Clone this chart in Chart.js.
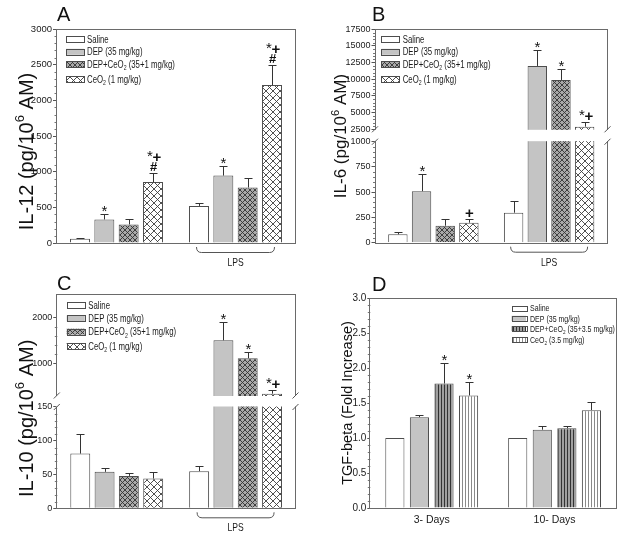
<!DOCTYPE html>
<html><head><meta charset="utf-8">
<script src="https://cdn.jsdelivr.net/npm/chart.js@4.4.1/dist/chart.umd.min.js"></script>
<style>
html,body{margin:0;padding:0;background:#fff;}
#wrap{position:relative;width:624px;height:541px;overflow:hidden;background:#fff;}
canvas{position:absolute;}
</style></head><body><div id="wrap">
<canvas id="cA" width="312" height="270" style="left:0;top:0"></canvas>
<canvas id="cB" width="312" height="270" style="left:312px;top:0"></canvas>
<canvas id="cC" width="312" height="271" style="left:0;top:270px"></canvas>
<canvas id="cD" width="312" height="271" style="left:312px;top:270px"></canvas>
</div>
<script>
// ---------------- DATA ----------------
const groupsABC = ['', 'LPS'];
const groupsD = ['3- Days', '10- Days'];
const seriesABC = ['Saline', 'DEP (35 mg/kg)', 'DEP+CeO₂ (35+1 mg/kg)', 'CeO₂ (1 mg/kg)'];
const seriesD = ['Saline', 'DEP (35 mg/kg)', 'DEP+CeO₂ (35+3.5 mg/kg)', 'CeO₂ (3.5 mg/kg)'];

// Panel A: IL-12
const il12Saline = [60, 520];   const il12SalineErr = [8, 40];
const il12Dep    = [330, 945];  const il12DepErr    = [80, 135];
const il12DepCe  = [260, 778];  const il12DepCeErr  = [80, 127];
const il12Ce     = [855, 2215]; const il12CeErr     = [120, 275];
const il12Marks  = [['', ''], ['*', '*'], ['', ''], ['*+#', '*+#']];
const il12Ticks  = [0, 500, 1000, 1500, 2000, 2500, 3000];

// Panel B: IL-6
const il6Saline = [83, 297];    const il6SalineErr = [26, 116];
const il6Dep    = [510, 12000]; const il6DepErr    = [175, 2400];
const il6DepCe  = [168, 9900];  const il6DepCeErr  = [67, 1600];
const il6Ce     = [198, 2900];  const il6CeErr     = [37, 750];
const il6Marks  = [['', ''], ['*', '*'], ['', '*'], ['+', '*+']];
const il6Ticks  = [0, 250, 500, 750, 1000, 2500, 5000, 7500, 10000, 12500, 15000, 17500];

// Panel C: IL-10
const il10Saline = [81, 55];    const il10SalineErr = [29, 7];
const il10Dep    = [54, 1500];  const il10DepErr    = [6, 400];
const il10DepCe  = [48, 1110];  const il10DepCeErr  = [4, 125];
const il10Ce     = [44, 340];   const il10CeErr     = [10, 90];
const il10Marks  = [['', ''], ['', '*'], ['', '*'], ['', '*+']];
const il10Ticks  = [0, 50, 100, 150, 1000, 2000];

// Panel D: TGF-beta
const tgfSaline = [1.0, 1.0];   const tgfSalineErr = [0, 0];
const tgfDep    = [1.30, 1.12]; const tgfDepErr    = [0.03, 0.05];
const tgfDepCe  = [1.78, 1.14]; const tgfDepCeErr  = [0.30, 0.03];
const tgfCe     = [1.61, 1.40]; const tgfCeErr     = [0.19, 0.12];
const tgfMarks  = [['', ''], ['', ''], ['*', ''], ['*', '']];
const tgfTicks  = [0, 0.5, 1.0, 1.5, 2.0, 2.5, 3.0];

// ---------------- FONTS ----------------
const SANS = '"Liberation Sans", Arial, sans-serif';
const mc = document.createElement('canvas').getContext('2d');
function fontAvail(name) {
  mc.font = '40px monospace'; const a = mc.measureText('DEP+CeO mg/kg Saline').width;
  mc.font = '40px "' + name + '", monospace'; const b = mc.measureText('DEP+CeO mg/kg Saline').width;
  return Math.abs(a - b) > 0.5;
}
const HAS_NARROW = fontAvail('Liberation Sans Narrow');
const NARROW = HAS_NARROW ? '"Liberation Sans Narrow", ' + SANS : SANS;
const NSX = HAS_NARROW ? 0.94 : 0.78;

// ---------------- PATTERNS ----------------
function pattern(kind) {
  const c = document.createElement('canvas');
  let s = 6;
  if (kind === 'cross') s = 7;
  if (kind === 'crossDark') s = 5;
  if (kind === 'vDark' || kind === 'vLight') s = 3;
  c.width = s; c.height = s;
  const g = c.getContext('2d');
  if (kind === 'cross' || kind === 'crossDark') {
    g.fillStyle = kind === 'cross' ? '#ffffff' : '#a9a9a9';
    g.fillRect(0, 0, s, s);
    g.strokeStyle = kind === 'cross' ? '#3c3c3c' : '#333333';
    g.lineWidth = 0.9;
    g.beginPath();
    for (const k of [-s, 0, s]) {
      g.moveTo(k, 0); g.lineTo(k + s, s);
      g.moveTo(k + s, 0); g.lineTo(k, s);
    }
    g.stroke();
  } else {
    g.fillStyle = kind === 'vDark' ? '#a0a0a0' : '#ffffff';
    g.fillRect(0, 0, s, s);
    g.fillStyle = kind === 'vDark' ? '#333333' : '#8a8a8a';
    g.fillRect(0, 0, 1, s);
  }
  return mc.createPattern(c, 'repeat');
}
const FILL_SALINE = '#ffffff';
const FILL_DEP = '#c4c4c4';
const fillsABC = [FILL_SALINE, FILL_DEP, pattern('crossDark'), pattern('cross')];
const fillsD = [FILL_SALINE, FILL_DEP, pattern('vDark'), pattern('vLight')];

// ---------------- BROKEN SCALE ----------------
const BRK = {};
class BrokenScale extends Chart.LinearScale {
  static id = 'broken';
  static defaults = {};
  buildTicks() { return BRK[this.chart.canvas.id].ticks.map(v => ({ value: v })); }
  _frac(v) {
    const [a, b] = BRK[this.chart.canvas.id].segs;
    if (v <= a.max) return a.from + (v - a.min) / (a.max - a.min) * (a.to - a.from);
    if (v >= b.min) return b.from + (v - b.min) / (b.max - b.min) * (b.to - b.from);
    return a.to + (v - a.max) / (b.min - a.max) * (b.from - a.to);
  }
  getPixelForValue(v) {
    if (v === null || v === undefined) return NaN;
    return this.bottom - this._frac(v) * (this.bottom - this.top);
  }
  getValueForPixel(p) {
    const f = (this.bottom - p) / (this.bottom - this.top);
    const [a, b] = BRK[this.chart.canvas.id].segs;
    if (f <= a.to) return a.min + (f - a.from) / (a.to - a.from) * (a.max - a.min);
    if (f >= b.from) return b.min + (f - b.from) / (b.to - b.from) * (b.max - b.min);
    return a.max;
  }
}
Chart.register(BrokenScale);

// ---------------- TEXT HELPERS ----------------
function rich(ctx, text, x, y, size, family, sx, align, color) {
  const segs = []; let buf = '';
  for (const ch of text) {
    if (ch === '₂' || ch === '⁶') {
      if (buf) segs.push({ t: buf, k: 0 }); buf = '';
      segs.push({ t: ch === '₂' ? '2' : '6', k: ch === '₂' ? 1 : -1 });
    } else buf += ch;
  }
  if (buf) segs.push({ t: buf, k: 0 });
  const fontFor = k => (k ? (size * 0.66).toFixed(2) : size) + 'px ' + family;
  let w = 0;
  segs.forEach(s => { ctx.font = fontFor(s.k); s.w = ctx.measureText(s.t).width; w += s.w; });
  ctx.save();
  ctx.translate(x, y); ctx.scale(sx, 1);
  ctx.fillStyle = color || '#1a1a1a';
  ctx.textAlign = 'left'; ctx.textBaseline = 'alphabetic';
  let cx = align === 'center' ? -w / 2 : 0;
  segs.forEach(s => {
    ctx.font = fontFor(s.k);
    ctx.fillText(s.t, cx, s.k === 1 ? size * 0.22 : (s.k === -1 ? -size * 0.42 : 0));
    cx += s.w;
  });
  ctx.restore();
}
function seg(ctx, x1, y1, x2, y2) { ctx.beginPath(); ctx.moveTo(x1, y1); ctx.lineTo(x2, y2); ctx.stroke(); }

function drawMark(ctx, m, x, top) {
  if (!m) return;
  ctx.save();
  ctx.fillStyle = '#111'; ctx.textAlign = 'center'; ctx.textBaseline = 'alphabetic';
  let base = top;
  const star = (cx, cy) => { ctx.font = '15px ' + SANS; ctx.fillText('*', cx, cy + 8.5); };
  const plus = (cx, cy) => { ctx.font = 'bold 15px ' + SANS; ctx.fillText('+', cx, cy + 5.3); };
  if (m.includes('#')) { ctx.font = 'bold 13px ' + SANS; ctx.fillText('#', x, base - 7 + 4.5); base -= 10; }
  const hs = m.includes('*'), hp = m.includes('+');
  if (hs && hp) { star(x - 3.5, base - 11.5); plus(x + 3.5, base - 6.5); }
  else if (hs) star(x, base - 7.5);
  else if (hp) plus(x, base - 7);
  ctx.restore();
}

// ---------------- PANEL BUILDER ----------------
function makePanel(cfg) {
  const canvas = document.getElementById(cfg.id);
  const W = canvas.width, H = canvas.height, A = cfg.area;
  const datasets = cfg.values.map((vals, i) => ({
    label: cfg.series[i], data: vals,
    backgroundColor: cfg.fills[i], borderColor: '#4d4d4d', borderWidth: 1,
    categoryPercentage: cfg.catPct, barPercentage: cfg.barPct
  }));
  let y;
  const tickFont = { family: cfg.tickFamily || SANS, size: cfg.tickSize };
  const common = {
    grid: { display: true, drawOnChartArea: false, drawTicks: true, tickLength: cfg.tickLen, color: '#555', lineWidth: 1 },
    border: { display: false },
    afterFit: s => { s.width = A.l; }
  };
  if (cfg.brk) {
    BRK[cfg.id] = { ticks: cfg.ticks, segs: cfg.brk };
    y = Object.assign({ type: 'broken', min: 0, max: cfg.ticks[cfg.ticks.length - 1],
      ticks: { autoSkip: false, font: tickFont, color: '#1a1a1a', padding: 1, callback: v => String(v) } }, common);
  } else {
    y = Object.assign({ type: 'linear', min: cfg.ticks[0], max: cfg.ticks[cfg.ticks.length - 1],
      afterBuildTicks: s => { s.ticks = cfg.ticks.map(v => ({ value: v })); },
      ticks: { autoSkip: false, font: tickFont, color: '#1a1a1a', padding: 1, callback: cfg.tickFmt || (v => String(v)) } }, common);
  }
  const plugin = {
    id: 'panel_' + cfg.id,
    afterDatasetsDraw(chart) {
      const ctx = chart.ctx, a = chart.chartArea, ys = chart.scales.y;
      // minor ticks between consecutive major ticks (not across the break)
      ctx.save();
      ctx.strokeStyle = '#777'; ctx.lineWidth = 1;
      for (let i = 0; i + 1 < cfg.ticks.length; i++) {
        const t0 = cfg.ticks[i], t1 = cfg.ticks[i + 1];
        if (cfg.brk && t0 <= cfg.brk[0].max && t1 >= cfg.brk[1].min) continue;
        for (let k = 1; k < cfg.minor; k++) {
          const py = Math.round(ys.getPixelForValue(t0 + (t1 - t0) * k / cfg.minor)) + 0.5;
          seg(ctx, a.left - 2.5, py, a.left, py);
        }
      }
      ctx.restore();
      // error bars and significance marks
      ctx.save();
      ctx.strokeStyle = '#333'; ctx.lineWidth = 1;
      cfg.values.forEach((vals, di) => {
        const meta = chart.getDatasetMeta(di);
        vals.forEach((v, gi) => {
          const e = cfg.errors[di][gi];
          const x = Math.round(meta.data[gi].x) + 0.5;
          const y1 = ys.getPixelForValue(v);
          const y2 = Math.round(ys.getPixelForValue(v + e)) + 0.5;
          if (e > 0) { seg(ctx, x, y1, x, y2); seg(ctx, x - 4, y2, x + 4, y2); }
          drawMark(ctx, cfg.marks[di][gi], x, e > 0 ? y2 : y1);
        });
      });
      ctx.restore();
      // frame
      ctx.save();
      ctx.strokeStyle = '#6a6a6a'; ctx.lineWidth = 1;
      ctx.strokeRect(Math.round(a.left) - 0.5, Math.round(a.top) + 0.5, Math.round(a.right) - Math.round(a.left) + 1, Math.round(a.bottom) - Math.round(a.top));
      ctx.restore();
      // axis break
      if (cfg.brk) {
        const yTop = ys.getPixelForValue(cfg.brk[1].min);
        const yBot = ys.getPixelForValue(cfg.brk[0].max);
        ctx.save();
        ctx.fillStyle = '#ffffff';
        ctx.fillRect(a.left - 1.5, yTop + 0.5, a.right - a.left + 3, yBot - yTop - 1);
        ctx.strokeStyle = '#555'; ctx.lineWidth = 1;
        for (const xx of [a.left - 0.5, a.right + 0.5]) {
          seg(ctx, xx - 3, yTop + 3, xx + 3, yTop - 3);
          seg(ctx, xx - 3, yBot + 3, xx + 3, yBot - 3);
        }
        ctx.restore();
      }
    },
    afterDraw(chart) {
      const ctx = chart.ctx, a = chart.chartArea;
      // panel letter
      ctx.save();
      ctx.fillStyle = '#111'; ctx.font = '20px ' + SANS; ctx.textAlign = 'left'; ctx.textBaseline = 'alphabetic';
      ctx.fillText(cfg.letter, cfg.letterPos.x, cfg.letterPos.y);
      ctx.restore();
      // y title
      ctx.save();
      ctx.translate(cfg.titlePos.x, cfg.titlePos.y); ctx.rotate(-Math.PI / 2);
      rich(ctx, cfg.title, 0, cfg.titleSize * 0.36, cfg.titleSize, SANS, 1, 'center', '#111');
      ctx.restore();
      // legend
      const L = cfg.legend;
      cfg.series.forEach((name, i) => {
        const ry = L.rows[i];
        ctx.save();
        ctx.fillStyle = cfg.fills[i];
        ctx.fillRect(L.boxX, ry - L.boxH / 2, L.boxW, L.boxH);
        ctx.strokeStyle = '#4d4d4d'; ctx.lineWidth = 1;
        ctx.strokeRect(Math.round(L.boxX) + 0.5, Math.round(ry - L.boxH / 2) + 0.5, Math.round(L.boxW), Math.round(L.boxH));
        ctx.restore();
        rich(ctx, name, L.textX, ry + L.size * 0.36, L.size, NARROW, NSX, 'left', '#1a1a1a');
      });
      // LPS brace
      if (cfg.brace) {
        const xs = chart.scales.x;
        const cx = xs.getPixelForValue(1);
        const x0 = cx - cfg.brace.half, x1 = cx + cfg.brace.half;
        const y0 = a.bottom + 4, y1b = a.bottom + 9.5;
        ctx.save();
        ctx.strokeStyle = '#555'; ctx.lineWidth = 1;
        ctx.beginPath();
        ctx.moveTo(x0, y0);
        ctx.quadraticCurveTo(x0, y1b, x0 + 5, y1b);
        ctx.lineTo(x1 - 5, y1b);
        ctx.quadraticCurveTo(x1, y1b, x1, y0);
        ctx.stroke();
        ctx.restore();
        rich(ctx, cfg.groups[1], cx, a.bottom + 23, 11, NARROW, NSX, 'center', '#1a1a1a');
      }
    }
  };
  return new Chart(canvas, {
    type: 'bar',
    data: { labels: cfg.groups, datasets },
    options: {
      responsive: false, animation: false, devicePixelRatio: 1, events: [],
      layout: { padding: { left: 0, top: A.t, right: W - A.r, bottom: 0 } },
      plugins: { legend: { display: false }, tooltip: { enabled: false }, title: { display: false } },
      scales: {
        x: {
          type: 'category', offset: true,
          grid: { display: false, drawTicks: false }, border: { display: false },
          ticks: { display: !!cfg.xLabels, font: { family: NARROW, size: cfg.xLabelSize || 10 }, color: '#1a1a1a', padding: 6, maxRotation: 0 },
          afterFit: s => { s.height = H - A.b; }
        },
        y
      }
    },
    plugins: [plugin]
  });
}

// ---------------- PANELS ----------------
const legendABC = (bx, tx, rows) => ({ boxX: bx, boxW: 18, boxH: 6, textX: tx, rows, size: 10 });

makePanel({
  id: 'cA', area: { l: 57, t: 29, r: 295, b: 243 },
  groups: groupsABC, series: seriesABC, fills: fillsABC,
  values: [il12Saline, il12Dep, il12DepCe, il12Ce],
  errors: [il12SalineErr, il12DepErr, il12DepCeErr, il12CeErr],
  marks: il12Marks, ticks: il12Ticks, tickSize: 9.5, tickLen: 4, minor: 5,
  catPct: 0.818, barPct: 0.82,
  title: 'IL-12 (pg/10⁶ AM)', titleSize: 20, titlePos: { x: 25.5, y: 151.5 },
  letter: 'A', letterPos: { x: 57, y: 21 },
  legend: legendABC(66, 87, [39.3, 51.8, 64.3, 79.3]),
  brace: { half: 39 }
});

makePanel({
  id: 'cB', area: { l: 63.5, t: 29.3, r: 295, b: 242.7 },
  groups: groupsABC, series: seriesABC, fills: fillsABC,
  values: [il6Saline, il6Dep, il6DepCe, il6Ce],
  errors: [il6SalineErr, il6DepErr, il6DepCeErr, il6CeErr],
  marks: il6Marks, ticks: il6Ticks, tickSize: 9, tickLen: 4, minor: 5,
  brk: [{ min: 0, max: 1000, from: 0, to: 0.4733 }, { min: 2500, max: 17500, from: 0.5314, to: 1 }],
  catPct: 0.818, barPct: 0.82,
  title: 'IL-6 (pg/10⁶ AM)', titleSize: 17, titlePos: { x: 28, y: 136 },
  letter: 'B', letterPos: { x: 60, y: 21 },
  legend: legendABC(69.3, 90.7, [39.3, 51.8, 64.3, 79.3]),
  brace: { half: 38.5 }
});

makePanel({
  id: 'cC', area: { l: 57.3, t: 24.3, r: 295, b: 238.3 },
  groups: groupsABC, series: seriesABC, fills: fillsABC,
  values: [il10Saline, il10Dep, il10DepCe, il10Ce],
  errors: [il10SalineErr, il10DepErr, il10DepCeErr, il10CeErr],
  marks: il10Marks, ticks: il10Ticks, tickSize: 9, tickLen: 4, minor: 5,
  brk: [{ min: 0, max: 150, from: 0, to: 0.4734 }, { min: 300, max: 2500, from: 0.5271, to: 1 }],
  catPct: 0.818, barPct: 0.82,
  title: 'IL-10 (pg/10⁶ AM)', titleSize: 20, titlePos: { x: 25.3, y: 148.3 },
  letter: 'C', letterPos: { x: 57, y: 20 },
  legend: legendABC(66.7, 88.3, [35, 48.3, 61.7, 76]),
  brace: { half: 38.5 }
});

makePanel({
  id: 'cD', area: { l: 58.3, t: 28.3, r: 304, b: 238 },
  groups: groupsD, series: seriesD, fills: fillsD,
  values: [tgfSaline, tgfDep, tgfDepCe, tgfCe],
  errors: [tgfSalineErr, tgfDepErr, tgfDepCeErr, tgfCeErr],
  marks: tgfMarks, ticks: tgfTicks, tickSize: 10, tickLen: 3, minor: 5,
  tickFamily: NARROW,
  tickFmt: v => Number(v).toFixed(1),
  catPct: 0.8, barPct: 0.78,
  xLabels: true, xLabelSize: 10.5,
  title: 'TGF-beta (Fold Increase)', titleSize: 14.5, titlePos: { x: 35, y: 133 },
  letter: 'D', letterPos: { x: 60, y: 21 },
  legend: { boxX: 199.5, boxW: 14.5, boxH: 5, textX: 218, rows: [38, 48.3, 58.6, 69.5], size: 9 }
});
</script>
</body></html>
